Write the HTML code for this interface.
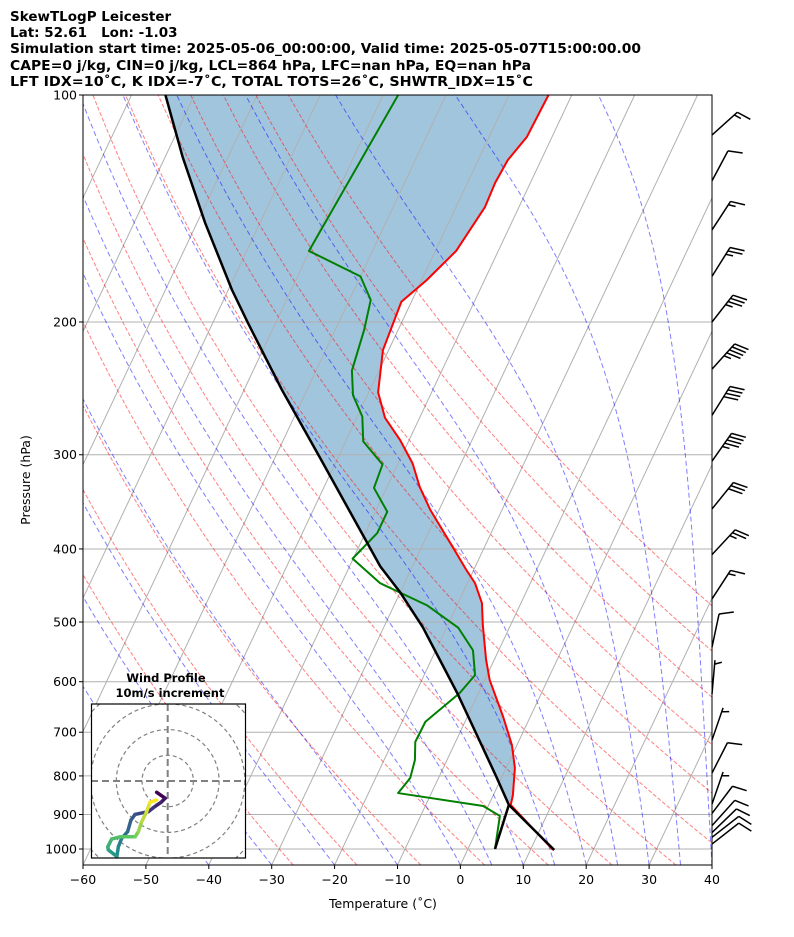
<!DOCTYPE html>
<html><head><meta charset="utf-8"><title>SkewT</title>
<style>
html,body{margin:0;padding:0;background:#fff;}
svg{display:block;font-family:"DejaVu Sans","Liberation Sans",sans-serif;}
</style></head>
<body>
<svg id="chart" width="794" height="937" viewBox="0 0 794 937">
<defs><clipPath id="plotclip"><rect x="83" y="95" width="629" height="770"/></clipPath>
<clipPath id="hodoclip"><rect x="91.5" y="704" width="154" height="154"/></clipPath></defs>
<g font-weight="bold" font-size="13.5" fill="#000">
<text x="10" y="21">SkewTLogP Leicester</text>
<text x="10" y="37" xml:space="preserve">Lat: 52.61   Lon: -1.03</text>
<text x="10" y="53" textLength="631" lengthAdjust="spacingAndGlyphs">Simulation start time: 2025-05-06_00:00:00, Valid time: 2025-05-07T15:00:00.00</text>
<text x="10" y="70" textLength="521" lengthAdjust="spacingAndGlyphs">CAPE=0 j/kg, CIN=0 j/kg, LCL=864 hPa, LFC=nan hPa, EQ=nan hPa</text>
<text x="10" y="86" textLength="523" lengthAdjust="spacingAndGlyphs">LFT IDX=10˚C, K IDX=-7˚C, TOTAL TOTS=26˚C, SHWTR_IDX=15˚C</text>
</g>
<g id="plot" clip-path="url(#plotclip)"></g>
<g id="axes"></g>
<g id="barbs"></g>
<g id="hodo"></g>
</svg>
<script>
// ---- data ----
const tempP = [1003,874,848,781,728,668,597,561,505,472,444,427,398,355,331,308,287,268,248,218,188,176,161,140.8,130.8,122,113.7,100];
const tempT = [13.6,3.5,3.1,1.4,-0.8,-4.3,-9.2,-11.3,-14.4,-16.2,-18.8,-21.1,-25.0,-31.4,-34.8,-37.7,-41.4,-45.5,-48.5,-50.9,-51.6,-49.2,-46.7,-45.4,-45.6,-45.3,-44.0,-43.7];
const dewP = [1000,904,877,843,805,762,721,678,621,588,545,509,475,444,412,381,357,332,309,288,267,250,232,205,187,174,161,100];
const dewT = [4.3,2.6,-0.8,-15.3,-14.5,-15.1,-16.4,-16.3,-13.0,-11.9,-14.1,-18.1,-24.8,-33.9,-40.1,-38.1,-38.1,-42.0,-42.4,-47.2,-49.2,-52.3,-54.3,-55.4,-56.6,-60.0,-70.1,-67.6];
const parcelP = [1003,874,802,702,621,508,456,422,303,246,200.6,181.4,147.8,120.9,100];
const parcelT = [13.8,3.2,-0.9,-7.4,-13.4,-23.8,-30.1,-35.1,-52.8,-64.0,-74.4,-79.4,-88.7,-97.2,-104.6];
const lclLineP = [1000,874];
const lclLineT = [4.3,3.2];
const pTicks = [100,200,300,400,500,600,700,800,900,1000];
const tTicks = [-60,-50,-40,-30,-20,-10,0,10,20,30,40];
const dryTheta = [243.15,253.15,263.15,273.15,283.15,293.15,303.15,313.15,323.15,333.15,343.15,353.15,363.15];
const moistT0 = [-40,-30,-20,-10,0,5,10,15,20,25,30,35,40,45];
const barbP = [113,130,151,174,200,231,266,306,354,407,466,540,623,717,793,872,897,931,951,965,985];
const barbDir = [48,28,33,32,38,42,32,35,39,43,33,12,5,19,27,19,37,42,46,52,52];
const barbSpd = [15,10,15,25,35,45,40,45,30,25,15,10,5,5,10,5,10,10,10,10,10];
const hodoU = [-4.3,-1.0,-2.6,-5.6,-7.5,-12.7,-14.3,-15.6,-17.9,-19.2,-19.8,-23.1,-23.3,-21.8,-18.5,-12.7,-11.4,-10.1,-8.2,-6.9,-4.3];
const hodoV = [-4.4,-6.7,-8.3,-10.4,-11.9,-13.0,-15.2,-19.7,-22.3,-25.6,-29.4,-26.8,-25.6,-22.6,-21.7,-21.7,-19.7,-15.8,-11.9,-8.3,-7.4];

// ---- axes functions ----
const X0=83,X1=712,Y0=95,Y1=865;
const pBot=1000*Math.pow(10,(865-849)/754);
function yOf(p){return 849+754*Math.log10(p/1000);}
function xOf(T,p){const y=yOf(p);return X0+(T+60)*6.29+0.4714*(Y1-y);}
const NS='http://www.w3.org/2000/svg';
function mk(tag,attrs,parent){const e=document.createElementNS(NS,tag);for(const k in attrs)e.setAttribute(k,attrs[k]);parent.appendChild(e);return e;}
const plot=document.getElementById('plot');
const axes=document.getElementById('axes');
function pathFrom(Ps,Ts){return Ps.map((p,i)=>(i?'L':'M')+xOf(Ts[i],p).toFixed(2)+' '+yOf(p).toFixed(2)).join(' ');}

// shaded region between parcel and temperature from LCL upward
(function(){
  const lcl=874;
  let pts=[];
  tempP.forEach((p,i)=>{if(p<=lcl)pts.push([xOf(tempT[i],p),yOf(p)]);});
  const rev=[];parcelP.forEach((p,i)=>{if(p<=lcl)rev.push([xOf(parcelT[i],p),yOf(p)]);});
  pts=pts.concat(rev.reverse());
  const el=mk('path',{d:'M'+pts.map(q=>q[0].toFixed(2)+' '+q[1].toFixed(2)).join(' L')+' Z',fill:'#a2c5de',stroke:'none'},plot);
  
  
})();

// isotherms
for(let T=-170;T<=40;T+=10){
  const el=mk('line',{x1:xOf(T,pBot),y1:yOf(pBot),x2:xOf(T,100),y2:yOf(100),stroke:'#b0b0b0','stroke-width':1},plot);
  
  
}
// pressure gridlines
pTicks.forEach(p=>{
  const el=mk('line',{x1:X0,y1:yOf(p),x2:X1,y2:yOf(p),stroke:'#b0b0b0','stroke-width':1},plot);
  
  
});
// dry adiabats
dryTheta.forEach(th=>{
  let d='';
  for(let p=pBot;p>=99;p-=10){const T=th*Math.pow(p/1000,0.2857)-273.15;d+=(d?'L':'M')+xOf(T,p).toFixed(2)+' '+yOf(p).toFixed(2);}
  const el=mk('path',{d:d,fill:'none',stroke:'rgba(255,0,0,0.5)','stroke-width':1,'stroke-dasharray':'4 2'},plot);
  
  
});
// moist adiabats
function dTdp(T,p){const Tc=T-273.15;const es=6.112*Math.exp(17.67*Tc/(T-29.65));const rs=0.622*es/Math.max(p-es,1);
  return (287.04*T+2.501e6*rs)/(p*(1005.7+2.501e6*2.501e6*rs*0.622/(287.04*T*T)));}
moistT0.forEach(t0=>{
  let T=t0+273.15,p=pBot,d='M'+xOf(t0,p).toFixed(2)+' '+yOf(p).toFixed(2);
  let n=0;
  while(p>100){const dp=-1;const k1=dTdp(T,p),k2=dTdp(T+k1*dp/2,p+dp/2);T+=k2*dp;p+=dp;n++;
    if(n%5===0||p<=100)d+='L'+xOf(T-273.15,p).toFixed(2)+' '+yOf(p).toFixed(2);}
  const el=mk('path',{d:d,fill:'none',stroke:'rgba(0,0,255,0.5)','stroke-width':1,'stroke-dasharray':'5 3'},plot);
  
  
});
// data lines
let el=mk('path',{d:pathFrom(tempP,tempT),fill:'none',stroke:'#ff0000','stroke-width':2,'stroke-linejoin':'round'},plot);


el=mk('path',{d:pathFrom(dewP,dewT),fill:'none',stroke:'#008000','stroke-width':2,'stroke-linejoin':'round'},plot);


el=mk('path',{d:pathFrom(parcelP,parcelT),fill:'none',stroke:'#000','stroke-width':2.5,'stroke-linejoin':'round'},plot);


el=mk('path',{d:pathFrom(lclLineP,lclLineT),fill:'none',stroke:'#000','stroke-width':2.5},plot);



// axes frame
el=mk('rect',{x:X0,y:Y0,width:X1-X0,height:Y1-Y0,fill:'none',stroke:'#000','stroke-width':1},axes);


pTicks.forEach(p=>{
  mk('line',{x1:X0-4,y1:yOf(p),x2:X0,y2:yOf(p),stroke:'#000'},axes);
  const t=mk('text',{x:X0-6,y:yOf(p)+4.5,'text-anchor':'end','font-size':12.5},axes);t.textContent=p;
  
  
});
tTicks.forEach(T=>{
  const x=X0+(T+60)*6.29;
  mk('line',{x1:x,y1:Y1,x2:x,y2:Y1+4,stroke:'#000'},axes);
  const t=mk('text',{x:x,y:Y1+19,'text-anchor':'middle','font-size':12.5},axes);t.textContent=(T<0?'\u2212':'')+Math.abs(T);
  
  
});
el=mk('text',{x:383,y:908,'text-anchor':'middle','font-size':12.5},axes);el.textContent='Temperature (˚C)';


el=mk('text',{x:30,y:480,'text-anchor':'middle','font-size':12.5,transform:'rotate(-90 30 480)'},axes);el.textContent='Pressure (hPa)';



// wind barbs
const barbs=document.getElementById('barbs');
barbP.forEach((p,i)=>{
  const bx=712,by=yOf(p);
  const a=(90-barbDir[i])*Math.PI/180;
  const ux=Math.cos(a),uy=-Math.sin(a);
  const L=34;
  const g=mk('g',{stroke:'#000','stroke-width':1.5,fill:'none'},barbs);
  
  
  const tx=bx+ux*L,ty=by+uy*L;
  mk('line',{x1:bx,y1:by,x2:tx,y2:ty},g);
  const px=-uy,py=ux;
  let s=barbSpd[i],pos=0;
  const full=Math.floor(s/10),half=(s%10)>=5?1:0;
  for(let k=0;k<full;k++){const sx=tx-ux*pos,sy=ty-uy*pos;
    mk('line',{x1:sx,y1:sy,x2:sx+px*14+ux*5,y2:sy+py*14+uy*5},g);pos+=4;}
  if(half){if(full===0)pos=4;const sx=tx-ux*pos,sy=ty-uy*pos;
    mk('line',{x1:sx,y1:sy,x2:sx+px*7+ux*2.5,y2:sy+py*7+uy*2.5},g);}
});

// hodograph inset
const hodo=document.getElementById('hodo');
const HX=167.7,HY=781,HS=2.57;
el=mk('text',{x:166,y:682,'text-anchor':'middle','font-size':11.5,'font-weight':'bold'},hodo);el.textContent='Wind Profile';


el=mk('text',{x:170,y:697,'text-anchor':'middle','font-size':11.5,'font-weight':'bold'},hodo);el.textContent='10m/s increment';


const hb=mk('rect',{x:91.5,y:704,width:154,height:154,fill:'#fff',stroke:'none'},hodo);


const hg=mk('g',{'clip-path':'url(#hodoclip)'},hodo);
[1,2,3,4].forEach(r=>{const c=mk('circle',{cx:HX,cy:HY,r:r*10*HS,fill:'none',stroke:'#808080','stroke-width':1.2,'stroke-dasharray':'4 3'},hg);
  
  });
mk('line',{x1:91,y1:HY,x2:246,y2:HY,stroke:'#808080','stroke-width':2,'stroke-dasharray':'7 4'},hg);
mk('line',{x1:HX,y1:704,x2:HX,y2:858,stroke:'#808080','stroke-width':2,'stroke-dasharray':'7 4'},hg);
const vir=[[68,1,84],[59,82,139],[33,145,140],[94,201,98],[253,231,37]];
function vcol(f){const s=f*(vir.length-1),i=Math.min(Math.floor(s),vir.length-2),t=s-i;const c=vir[i].map((v,k)=>Math.round(v+t*(vir[i+1][k]-v)));return 'rgb('+c.join(',')+')';}
for(let i=0;i<hodoU.length-1;i++){
  const s=mk('line',{x1:HX+hodoU[i]*HS,y1:HY-hodoV[i]*HS,x2:HX+hodoU[i+1]*HS,y2:HY-hodoV[i+1]*HS,stroke:vcol(i/(hodoU.length-2)),'stroke-width':3.5,'stroke-linecap':'round'},hg);
  
  
}
el=mk('rect',{x:91.5,y:704,width:154,height:154,fill:'none',stroke:'#000','stroke-width':1.2},hodo);


</script>
</body></html>
